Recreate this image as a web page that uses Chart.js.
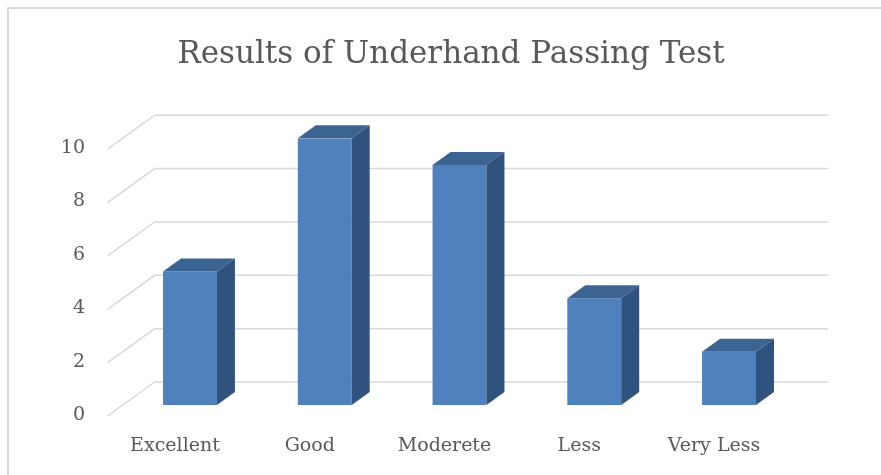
<!DOCTYPE html>
<html>
<head>
<meta charset="utf-8">
<script src="https://cdn.jsdelivr.net/npm/chart.js@4"></script>
<style>
  html, body { margin: 0; padding: 0; background: #ffffff; }
  #wrap { width: 881px; height: 475px; position: relative; }
</style>
</head>
<body>
<div id="wrap"><canvas id="c" width="881" height="475"></canvas></div>
<script>
const categories = ['Excellent', 'Good', 'Moderete', 'Less', 'Very Less'];
const values = [5, 10, 9, 4, 2];
const titleText = 'Results of Underhand Passing Test';
const yMin = 0, yMax = 10, yStep = 2;

const FONT = "'DejaVu Serif', serif";
const TEXT = '#595959';
const GRID = '#D9D9D9';
const FRONT = '#4F81BD';
const TOP = '#3B6493';
const SIDE = '#30527E';
// perspective offsets (pixels)
const DEPTH_DX = 18, DEPTH_DY = -13;        // bar depth
const FLOOR_FRONT_DX = -15, FLOOR_FRONT_DY = 11; // front edge of floor relative to bar plane
const WALL_DX = 32, WALL_DY = -23;          // back wall relative to bar plane

const framePlugin = {
  id: 'frame',
  beforeDraw(chart) {
    const ctx = chart.ctx;
    ctx.save();
    ctx.strokeStyle = GRID;
    ctx.lineWidth = 2;
    ctx.beginPath();
    ctx.moveTo(8, chart.height);
    ctx.lineTo(8, 8);
    ctx.lineTo(chart.width, 8);
    ctx.stroke();
    ctx.restore();
  }
};

const gridPlugin = {
  id: 'grid3d',
  beforeDatasetsDraw(chart) {
    const ctx = chart.ctx;
    const ys = chart.scales.y;
    const area = chart.chartArea;
    ctx.save();
    ctx.strokeStyle = GRID;
    ctx.lineWidth = 1.5;
    ys.ticks.forEach(t => {
      const y = ys.getPixelForValue(t.value);
      ctx.beginPath();
      ctx.moveTo(area.left + FLOOR_FRONT_DX, y + FLOOR_FRONT_DY);
      ctx.lineTo(area.left + WALL_DX, y + WALL_DY);
      ctx.lineTo(area.right + WALL_DX, y + WALL_DY);
      ctx.stroke();
    });
    ctx.restore();
  }
};

const bar3dPlugin = {
  id: 'bar3d',
  afterDatasetsDraw(chart) {
    const ctx = chart.ctx;
    const meta = chart.getDatasetMeta(0);
    ctx.save();
    meta.data.forEach(bar => {
      const p = bar.getProps(['x', 'y', 'base', 'width'], true);
      const l = p.x - p.width / 2, r = p.x + p.width / 2;
      const top = p.y, base = p.base;
      ctx.fillStyle = TOP;
      ctx.beginPath();
      ctx.moveTo(l, top);
      ctx.lineTo(l + DEPTH_DX, top + DEPTH_DY);
      ctx.lineTo(r + DEPTH_DX, top + DEPTH_DY);
      ctx.lineTo(r, top);
      ctx.closePath();
      ctx.fill();
      ctx.fillStyle = SIDE;
      ctx.beginPath();
      ctx.moveTo(r, top);
      ctx.lineTo(r + DEPTH_DX, top + DEPTH_DY);
      ctx.lineTo(r + DEPTH_DX, base + DEPTH_DY);
      ctx.lineTo(r, base);
      ctx.closePath();
      ctx.fill();
    });
    ctx.restore();
  }
};

new Chart(document.getElementById('c'), {
  type: 'bar',
  data: {
    labels: categories,
    datasets: [{
      data: values,
      backgroundColor: FRONT,
      borderWidth: 0,
      barPercentage: 0.4,
      categoryPercentage: 1.0
    }]
  },
  options: {
    responsive: false,
    animation: false,
    devicePixelRatio: 1,
    layout: { padding: { left: 21, right: 0, top: 0, bottom: 10 } },
    plugins: {
      legend: { display: false },
      tooltip: { enabled: false },
      title: {
        display: true,
        text: titleText,
        color: TEXT,
        font: { family: FONT, size: 31, weight: 'normal' },
        padding: { top: 36, bottom: 65 }
      }
    },
    scales: {
      x: {
        grid: { display: false, drawTicks: false },
        border: { display: false },
        ticks: {
          color: TEXT,
          font: { family: FONT, size: 19 },
          padding: 30,
          labelOffset: -15,
          maxRotation: 0,
          autoSkip: false
        },
        afterFit(scale) { scale.height = 60; }
      },
      y: {
        min: yMin,
        max: yMax,
        grid: { display: false, drawTicks: false },
        border: { display: false },
        ticks: {
          stepSize: yStep,
          color: TEXT,
          font: { family: FONT, size: 19 },
          padding: 37.6,
          labelOffset: 10
        },
        afterFit(scale) { scale.width = 101.6; }
      },
      yRight: {
        position: 'right',
        display: true,
        grid: { display: false, drawTicks: false },
        border: { display: false },
        ticks: { display: false },
        afterFit(scale) { scale.width = 84.6; }
      }
    }
  },
  plugins: [framePlugin, gridPlugin, bar3dPlugin]
});
</script>
</body>
</html>
